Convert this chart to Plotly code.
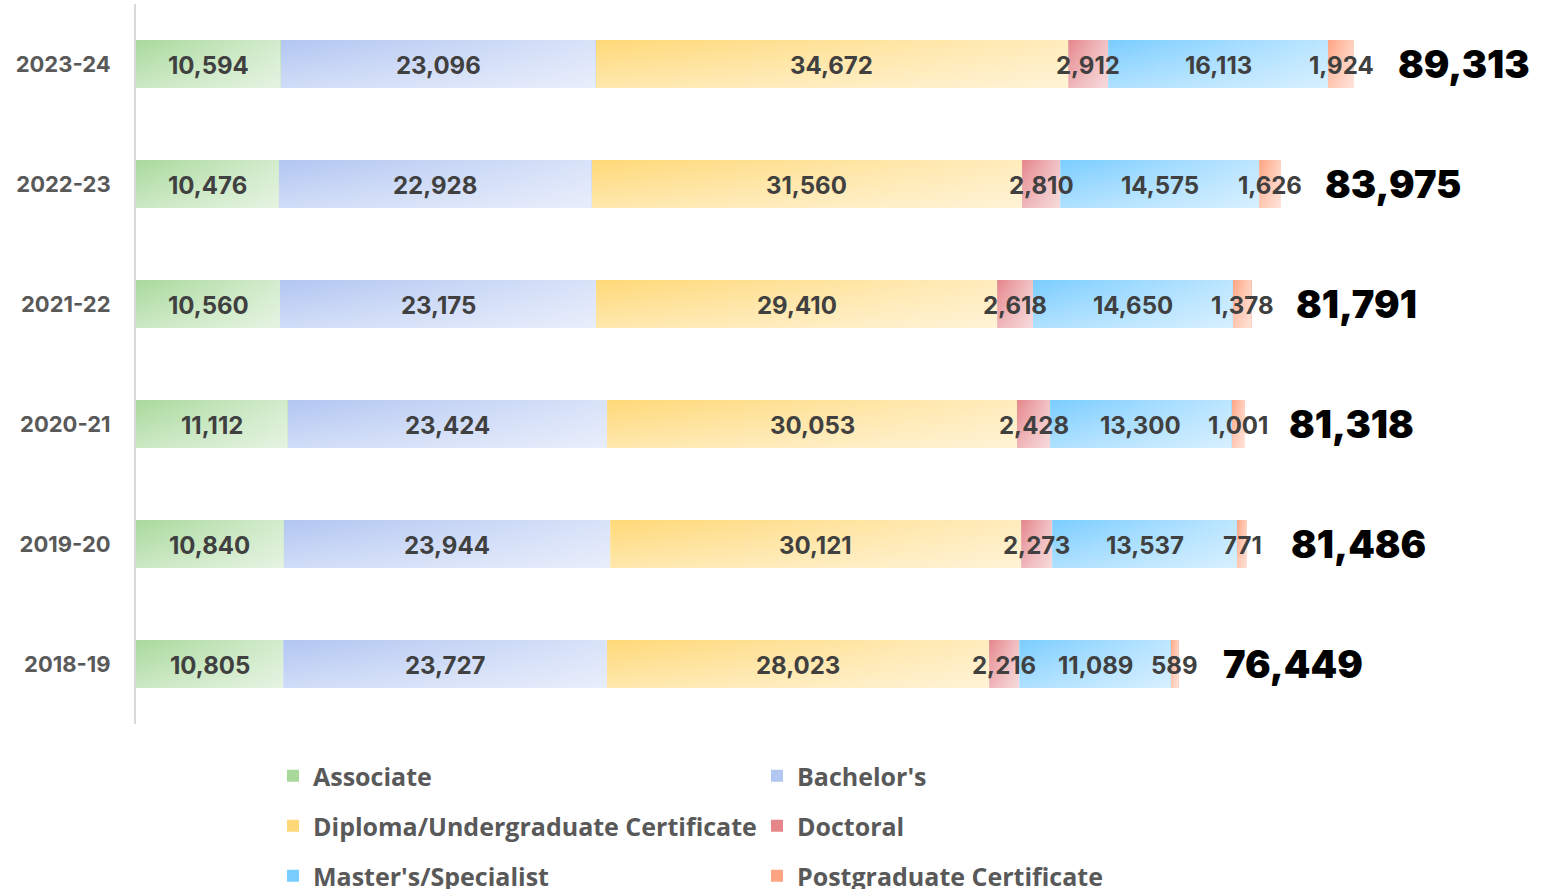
import plotly.graph_objects as go

years = ["2018-19", "2019-20", "2020-21", "2021-22", "2022-23", "2023-24"]
series_names = ["Associate", "Bachelor's", "Diploma/Undergraduate Certificate",
                "Doctoral", "Master's/Specialist", "Postgraduate Certificate"]
associate = [10805, 10840, 11112, 10560, 10476, 10594]
bachelors = [23727, 23944, 23424, 23175, 22928, 23096]
diploma = [28023, 30121, 30053, 29410, 31560, 34672]
doctoral = [2216, 2273, 2428, 2618, 2810, 2912]
masters = [11089, 13537, 13300, 14650, 14575, 16113]
postgrad = [589, 771, 1001, 1378, 1626, 1924]
totals = [76449, 81486, 81318, 81791, 83975, 89313]

series_values = [associate, bachelors, diploma, doctoral, masters, postgrad]
colors = ["#A8D99B", "#B2C6F2", "#FFD978", "#E5868B", "#7ACDFF", "#FFA482"]
legend_ids = ["legend", "legend", "legend2", "legend2", "legend3", "legend3"]

BAR_W = 0.4
ypos = list(range(len(years)))

fig = go.Figure()

# base bars
for name, vals, col, lg in zip(series_names, series_values, colors, legend_ids):
    fig.add_trace(go.Bar(
        y=ypos, x=vals, name=name, orientation="h", width=BAR_W,
        marker=dict(color=col, line=dict(width=0)),
        legend=lg, hoverinfo="x+name",
    ))

# gradient overlays (horizontal per segment)
for i in ypos:
    start = 0
    for vals in series_values:
        v = vals[i]
        x0, x1 = start, start + v
        y0, y1 = i - BAR_W / 2, i + BAR_W / 2
        fig.add_trace(go.Scatter(
            x=[x0, x1, x1, x0, x0], y=[y0, y0, y1, y1, y0],
            mode="lines", fill="toself", line=dict(width=0),
            fillgradient=dict(type="horizontal",
                              colorscale=[[0, "rgba(255,255,255,0)"], [1, "rgba(255,255,255,0.5)"]]),
            showlegend=False, hoverinfo="skip",
        ))
        start = x1
    # vertical overlay per row
    tot = sum(vals[i] for vals in series_values)
    fig.add_trace(go.Scatter(
        x=[0, tot, tot, 0, 0], y=[i - BAR_W / 2, i - BAR_W / 2, i + BAR_W / 2, i + BAR_W / 2, i - BAR_W / 2],
        mode="lines", fill="toself", line=dict(width=0),
        fillgradient=dict(type="vertical",
                          colorscale=[[0, "rgba(255,255,255,0.4)"], [1, "rgba(255,255,255,0)"]]),
        showlegend=False, hoverinfo="skip",
    ))

# segment labels
for i in ypos:
    start = 0
    for vals in series_values:
        v = vals[i]
        fig.add_annotation(x=start + v / 2, y=i, text=f"{v:,}", showarrow=False,
                           yshift=-1,
                           font=dict(family="Inter", size=24, color="#404040", weight=700))
        start += v

# totals
for i, t in zip(ypos, totals):
    fig.add_annotation(x=t, y=i, text=f"{t:,}", showarrow=False, xanchor="left",
                       xshift=42, font=dict(family="Inter", size=38, color="#000000", weight=900))

legend_common = dict(orientation="h", xref="container", yref="container",
                     xanchor="left", yanchor="middle", entrywidth=439, traceorder="normal",
                     font=dict(family="Open Sans", size=25, color="#595959", weight=700),
                     bgcolor="rgba(0,0,0,0)", itemclick=False)
fig.update_layout(
    width=1549, height=889,
    margin=dict(l=136, r=49, t=4, b=165),
    paper_bgcolor="white", plot_bgcolor="white",
    barmode="stack",
    showlegend=True,
    legend=dict(**legend_common, x=273 / 1549, y=1 - 776 / 889),
    legend2=dict(**legend_common, x=273 / 1549, y=1 - 826 / 889),
    legend3=dict(**legend_common, x=273 / 1549, y=1 - 876 / 889),
    xaxis=dict(range=[0, 100000], visible=False, showgrid=False, zeroline=False),
    yaxis=dict(range=[-0.5, 5.5], tickvals=ypos, ticktext=years,
               showline=True, linecolor="#D9D9D9", linewidth=2,
               showgrid=False, zeroline=False, ticks="", ticklabelstandoff=19,
               tickfont=dict(family="Inter", size=22, color="#595959", weight=700)),
)

fig.write_html("out.html", config={"displayModeBar": False},
               post_script="document.body.style.margin='0';")
